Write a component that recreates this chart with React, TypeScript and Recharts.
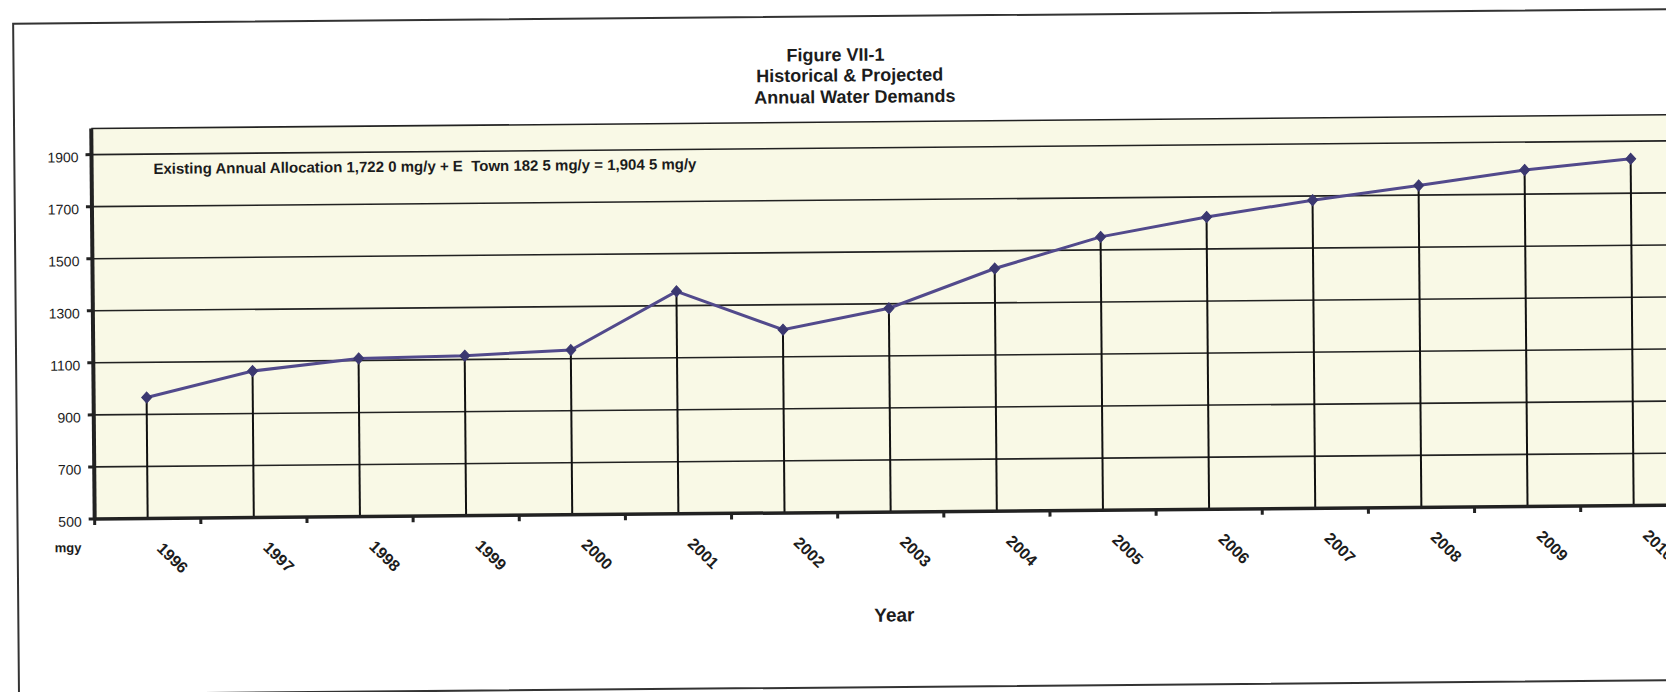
import React from 'react';
import { ComposedChart, Line, Bar, XAxis, YAxis, CartesianGrid } from 'recharts';

const years = ['1996', '1997', '1998', '1999', '2000', '2001', '2002', '2003', '2004', '2005', '2006', '2007', '2008', '2009', '2010'];
const demand = [965, 1063, 1108, 1115, 1133, 1355, 1204, 1283, 1432, 1550, 1623, 1684, 1737, 1793, 1832];
const yTicks = [500, 700, 900, 1100, 1300, 1500, 1700, 1900];
const yDomain: [number, number] = [500, 2000];
const titleLines = ['Figure VII-1', 'Historical & Projected', 'Annual Water Demands'];
const allocationNote = 'Existing Annual Allocation 1,722 0 mg/y + E  Town 182 5 mg/y = 1,904 5 mg/y';
const yUnit = 'mgy';
const xTitle = 'Year';

const data = years.map((year, i) => ({ year, demand: demand[i] }));

const FONT = '"Liberation Sans", Arial, Helvetica, sans-serif';
const INK = '#1c1c1c';

const XTick = (props: any) => {
  const { x, y, payload, index, width, visibleTicksCount } = props;
  const half = payload && typeof payload.offset === 'number' && payload.offset > 0
    ? payload.offset
    : (width && visibleTicksCount ? width / visibleTicksCount / 2 : 53);
  const ax = x + 8;
  const ay = y + 31;
  return (
    <g>
      <line x1={x + half} x2={x + half} y1={y} y2={y + 6} stroke="#222" strokeWidth={3} />
      {index === 0 && <line x1={x - half} x2={x - half} y1={y} y2={y + 6} stroke="#222" strokeWidth={3} />}
      <text
        x={ax}
        y={ay}
        transform={`rotate(45, ${ax}, ${ay})`}
        fontSize={16}
        fontWeight="bold"
        fontFamily={FONT}
        fill={INK}
        textAnchor="start"
      >
        {payload.value}
      </text>
    </g>
  );
};

const YTick = (props: any) => {
  const { x, y, payload } = props;
  return (
    <text x={x} y={y + 7.5} textAnchor="end" fontSize={14} fontFamily={FONT} fill={INK}>
      {payload.value}
    </text>
  );
};

const Diamond = (props: any) => {
  const { cx, cy, index } = props;
  if (cx == null || cy == null) return <g key={index} />;
  const w = 5;
  const h = 5.5;
  return (
    <polygon
      key={index}
      points={`${cx},${cy - h} ${cx + w},${cy} ${cx},${cy + h} ${cx - w},${cy}`}
      fill="#3b3870"
      stroke="#3b3870"
      strokeWidth={1}
    />
  );
};

export default function App() {
  return (
    <div
      style={{
        position: 'fixed',
        left: 0,
        top: 0,
        width: 1666,
        height: 692,
        overflow: 'hidden',
        background: '#ffffff',
      }}
    >
      <div
        style={{
          position: 'relative',
          width: 1720,
          height: 692,
          transform: 'translateY(1.5px) rotate(-0.5deg)',
          transformOrigin: '833px 346px',
        }}
      >
        <ComposedChart
          width={1720}
          height={692}
          data={data}
          margin={{ top: 120.6, right: 34.6, bottom: 121, left: 33.2 }}
        >
          <CartesianGrid
            horizontal={true}
            vertical={false}
            stroke="#222222"
            strokeWidth={1.6}
            fill="#f9f9e6"
            fillOpacity={1}
          />
          <XAxis
            dataKey="year"
            interval={0}
            height={60}
            axisLine={{ stroke: '#222', strokeWidth: 3.5 }}
            tickLine={false}
            tickSize={0}
            tickMargin={0}
            tick={<XTick />}
          />
          <YAxis
            type="number"
            domain={yDomain}
            ticks={yTicks}
            allowDataOverflow={true}
            width={60}
            axisLine={{ stroke: '#222', strokeWidth: 4 }}
            tickLine={{ stroke: '#222', strokeWidth: 3 }}
            tickSize={6}
            tickMargin={7}
            tick={<YTick />}
          />
          <Bar dataKey="demand" barSize={2} fill="#111111" isAnimationActive={false} />
          <Line
            type="linear"
            dataKey="demand"
            stroke="#524a8c"
            strokeWidth={3}
            dot={<Diamond />}
            activeDot={false}
            isAnimationActive={false}
          />
        </ComposedChart>
        <svg
          width={1720}
          height={692}
          style={{ position: 'absolute', left: 0, top: 0, pointerEvents: 'none' }}
        >
          <rect x={16} y={15} width={1800} height={671} fill="none" stroke="#333" strokeWidth={2} />
          <text x={838} y={59.5} textAnchor="middle" fontSize={18} fontWeight="bold" fontFamily={FONT} fill={INK}>
            {titleLines[0]}
          </text>
          <text x={852} y={80} textAnchor="middle" fontSize={18} fontWeight="bold" fontFamily={FONT} fill={INK}>
            {titleLines[1]}
          </text>
          <text x={857} y={101.5} textAnchor="middle" fontSize={18} fontWeight="bold" fontFamily={FONT} fill={INK}>
            {titleLines[2]}
          </text>
          <text
            x={155}
            y={166.5}
            fontSize={15}
            fontWeight="bold"
            fontFamily={FONT}
            fill={INK}
            style={{ whiteSpace: 'pre' }}
          >
            {allocationNote}
          </text>
          <text x={53} y={544} fontSize={13} fontWeight="bold" fontFamily={FONT} fill={INK}>
            {yUnit}
          </text>
          <text x={892} y={620.5} textAnchor="middle" fontSize={19} fontWeight="bold" fontFamily={FONT} fill={INK}>
            {xTitle}
          </text>
        </svg>
      </div>
    </div>
  );
}
